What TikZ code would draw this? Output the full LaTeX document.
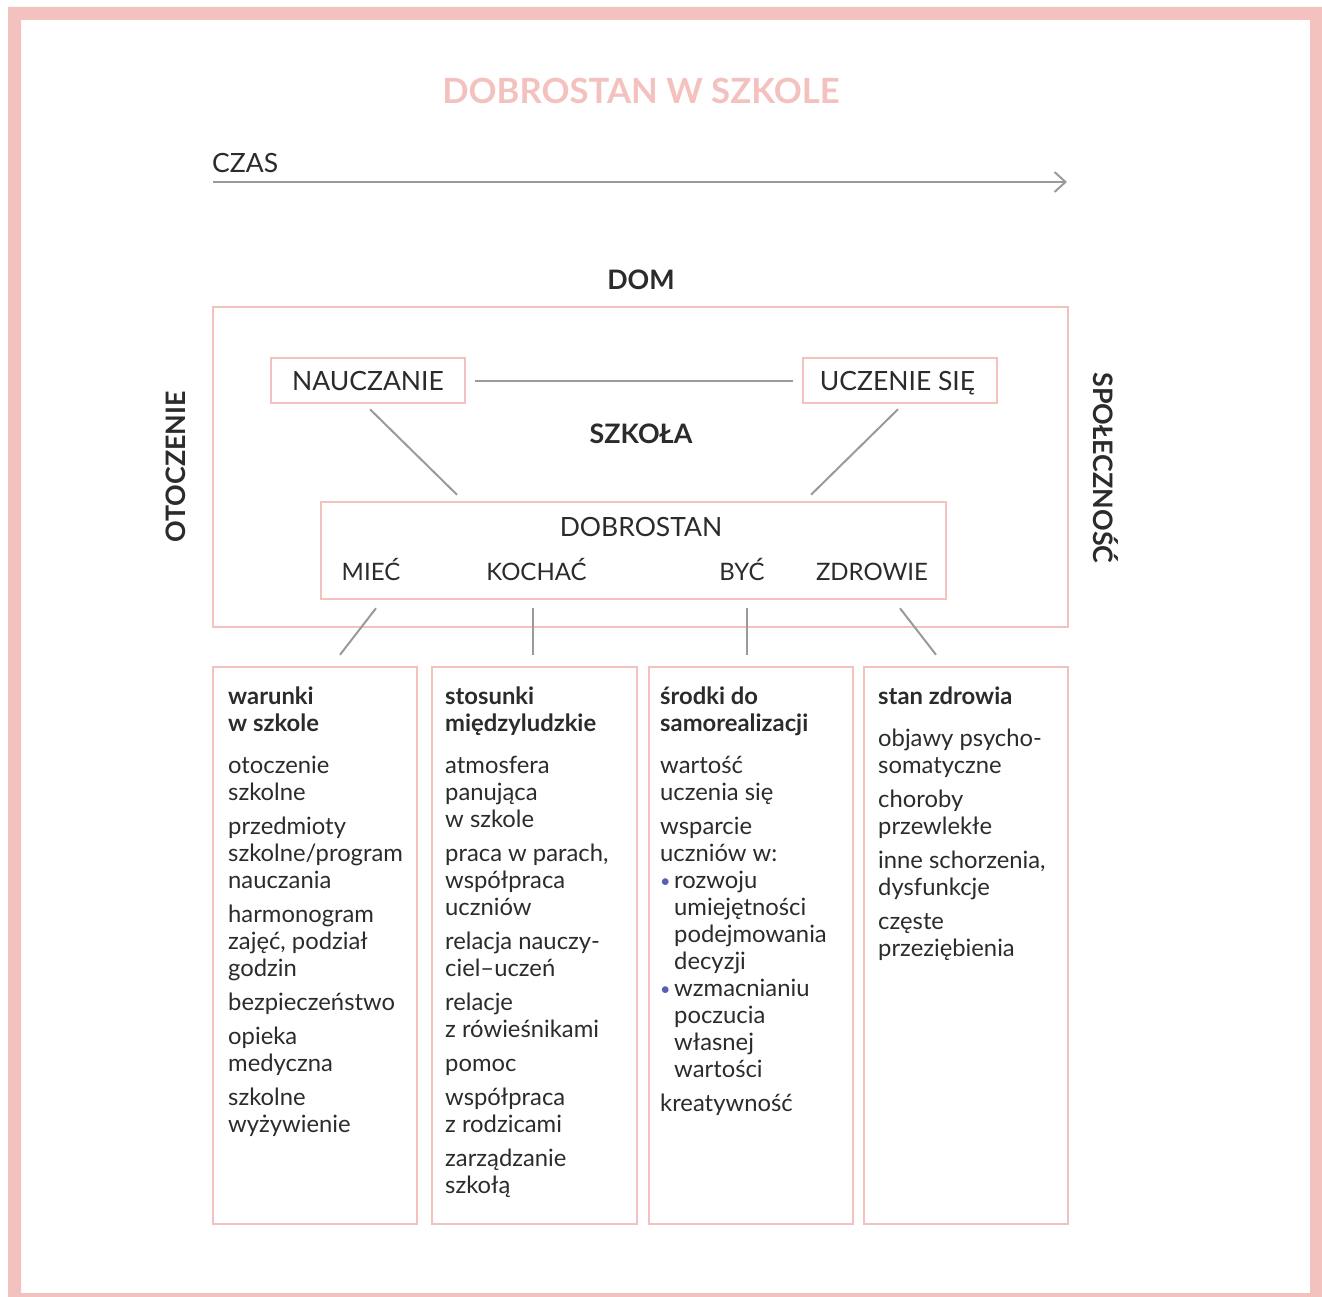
\documentclass[tikz,border=0pt]{standalone}
\usepackage{fontspec}
\setmainfont{Lato}
\usetikzlibrary{arrows.meta}
\definecolor{rose}{HTML}{F4C2BE}
\definecolor{linegray}{HTML}{9A9A9E}
\definecolor{ink}{HTML}{2B2B2B}
\definecolor{dotblue}{HTML}{5A5DB0}
\newcommand{\dotitem}{\makebox[14pt][l]{\textcolor{dotblue}{\fontsize{18}{27}\selectfont\raisebox{1pt}{•}}}}
\newcommand{\dotindent}{\hspace*{14pt}}
\begin{document}
\begin{tikzpicture}[x=1pt,y=-1pt,
  lbl/.style={font=\fontsize{26.5}{31}\selectfont, text=ink, inner sep=0pt},
  sublbl/.style={font=\fontsize{24}{29}\selectfont, text=ink, inner sep=0pt, anchor=base},
  hd/.style={font=\bfseries\fontsize{26.8}{31}\selectfont, text=ink, inner sep=0pt},
  pinkbox/.style={draw=rose, line width=2.5pt, inner sep=0pt},
  tagbox/.style={pinkbox, lbl, text height=20.4pt, text depth=0pt,
                 minimum width=194pt, minimum height=45pt},
  conn/.style={draw=linegray, line width=2pt},
  col/.style={anchor=north west, align=left, inner sep=0pt, text=ink,
              font=\fontsize{23.8}{27}\selectfont}]
\useasboundingbox (0,0) rectangle (1322,1297);
\clip (0,0) rectangle (1322,1297);
% outer frame
\fill[rose,even odd rule] (8,7) rectangle (1323,1306) (21,20) rectangle (1310,1293);

% title and time axis
\node[font=\bfseries\fontsize{34.7}{40}\selectfont, text=rose, inner sep=0pt] (title) at (641,91) {DOBROSTAN W SZKOLE};
\node[lbl, anchor=west] (czas) at (212,163) {CZAS};
\coordinate (t0) at (213,182);
\coordinate (t1) at (1067,182);
\draw[conn, -{Straight Barb[length=11pt,width=20pt]}] (t0) -- (t1);

% home frame and its surroundings
\node[hd] (dom) at (641,280) {DOM};
\node[pinkbox, minimum width=855pt, minimum height=320pt] (domframe) at (640.5,467) {};
\node[hd, rotate=90] (otoczenie) at (176,467) {OTOCZENIE};
\node[hd, rotate=-90] (spol) at (1106,468) {SPOŁECZNOŚĆ};

% school level
\node[tagbox] (nauczanie) at (368,380.5) {NAUCZANIE};
\node[tagbox] (uczenie) at (900,380.5) {\hspace*{-5pt}UCZENIE SIĘ};
\node[hd] (szkola) at (641,434) {SZKOŁA};
\draw[conn, shorten <=9pt, shorten >=9pt] (nauczanie.east) -- (uczenie.west);

% well-being box
\node[pinkbox, minimum width=625pt, minimum height=97pt] (dobrostan) at (633.5,550.5) {};
\node[lbl] (dobtitle) at (641,527) {DOBROSTAN};
\node[sublbl] (miec) at (371,580.5) {MIEĆ};
\node[sublbl] (kochac) at (536.5,580.5) {KOCHAĆ};
\node[sublbl] (byc) at (742,580.5) {BYĆ};
\node[sublbl] (zdrowie) at (872,580.5) {ZDROWIE};

\draw[conn] ([xshift=2pt,yshift=-5pt]nauczanie.south) -- ([xshift=-176.5pt,yshift=6pt]dobrostan.north);
\draw[conn] ([xshift=-2pt,yshift=-5pt]uczenie.south) -- ([xshift=177.5pt,yshift=6pt]dobrostan.north);

% four category columns
\node[pinkbox, minimum width=204pt, minimum height=557pt] (c1) at (315,945.5) {};
\node[pinkbox, minimum width=205pt, minimum height=557pt] (c2) at (534.5,945.5) {};
\node[pinkbox, minimum width=204pt, minimum height=557pt] (c3) at (751,945.5) {};
\node[pinkbox, minimum width=204pt, minimum height=557pt] (c4) at (966,945.5) {};

\draw[conn] ([xshift=5pt,yshift=-8pt]dobrostan.south -| miec) -- ([xshift=25pt,yshift=11pt]c1.north);
\draw[conn] ([xshift=-1.5pt,yshift=-8pt]dobrostan.south -| c2.north) -- ([xshift=-1.5pt,yshift=11pt]c2.north);
\draw[conn] ([xshift=-4pt,yshift=-8pt]dobrostan.south -| c3.north) -- ([xshift=-4pt,yshift=11pt]c3.north);
\draw[conn] ([xshift=-66pt,yshift=-8pt]dobrostan.south -| c4.north) -- ([xshift=-30pt,yshift=11pt]c4.north);

\node[col] (t1txt) at (228,685) {%
\textbf{\strut warunki}\\
\textbf{w szkole}\\[15pt]
otoczenie\\ szkolne\\[7pt]
przedmioty\\ szkolne/program\\ nauczania\\[7pt]
harmonogram\\ zajęć, podział\\ godzin\\[7pt]
bezpieczeństwo\\[7pt]
opieka\\ medyczna\\[7pt]
szkolne\\ wyżywienie};

\node[col] (t2txt) at (445,685) {%
\textbf{\strut stosunki}\\
\textbf{międzyludzkie}\\[15pt]
atmosfera\\ panująca\\ w szkole\\[7pt]
praca w parach,\\ współpraca\\ uczniów\\[7pt]
relacja nauczy-\\ ciel–uczeń\\[7pt]
relacje\\ z rówieśnikami\\[7pt]
pomoc\\[7pt]
współpraca\\ z rodzicami\\[7pt]
zarządzanie\\ szkołą};

\node[col] (t3txt) at (660,685) {%
\textbf{\strut środki do}\\
\textbf{samorealizacji}\\[15pt]
wartość\\ uczenia się\\[7pt]
wsparcie\\ uczniów w:\\
\dotitem rozwoju\\
\dotindent umiejętności\\
\dotindent podejmowania\\
\dotindent decyzji\\
\dotitem wzmacnianiu\\
\dotindent poczucia\\
\dotindent własnej\\
\dotindent wartości\\[7pt]
kreatywność};

\node[col] (t4txt) at (878,685) {%
\textbf{\strut stan zdrowia}\\[15pt]
objawy psycho-\\ somatyczne\\[7pt]
choroby\\ przewlekłe\\[7pt]
inne schorzenia,\\ dysfunkcje\\[7pt]
częste\\ przeziębienia};
\end{tikzpicture}
\end{document}
